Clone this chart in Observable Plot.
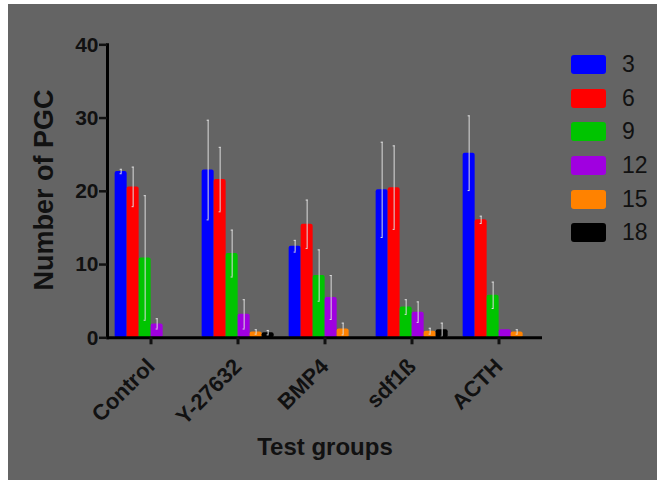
<!DOCTYPE html>
<html>
<head>
<meta charset="utf-8">
<script src="https://cdn.jsdelivr.net/npm/d3@7"></script>
<script src="https://cdn.jsdelivr.net/npm/@observablehq/plot@0.6"></script>
<style>
  body { margin: 0; background: #fff; }
  #wrap { position: relative; width: 657px; height: 480px; overflow: hidden; font-family: "Liberation Sans", Arial, sans-serif; }
  #chart { position: absolute; left: 8px; top: 4px; }
  .ytitle { position: absolute; left: 44px; top: 190px; transform: translate(-50%, -50%) rotate(-90deg); font-weight: bold; font-size: 27px; color: #111; white-space: nowrap; }
  .xtitle { position: absolute; left: 325px; top: 433px; transform: translateX(-50%); font-weight: bold; font-size: 24px; color: #111; white-space: nowrap; }
  .legend { position: absolute; left: 571px; top: 55px; }
  .item { display: flex; align-items: center; height: 19px; margin-bottom: 14.7px; }
  .sw { width: 35px; height: 19px; border-radius: 3px; }
  .lab { margin-left: 16px; font-size: 23px; color: #111; line-height: 19px; }
</style>
</head>
<body>
<div id="wrap">
  <div id="chart"></div>
  <div class="ytitle">Number of PGC</div>
  <div class="xtitle">Test groups</div>
  <div class="legend" id="legend"></div>
</div>
<script>
const groups = ["Control", "Y-27632", "BMP4", "sdf1ß", "ACTH"];
const series = ["3", "6", "9", "12", "15", "18"];
const colors = ["#0000ff", "#ff0000", "#00c400", "#a000e0", "#ff8200", "#000000"];
const yTicks = [0, 10, 20, 30, 40];

// values per series, in group order (null = no bar)
const v3  = [22.7, 22.9, 12.5, 20.2, 25.2];
const v6  = [20.6, 21.6, 15.5, 20.5, 16.1];
const v9  = [10.9, 11.5, 8.5, 4.2, 5.8];
const v12 = [1.9, 3.2, 5.5, 3.5, 1.1];
const v15 = [null, 0.8, 1.2, 0.9, 0.8];
const v18 = [null, 0.7, null, 1.1, null];

// error (± half-range) per series
const e3  = [0.3, 6.8, 0.8, 6.5, 5.1];
const e6  = [2.7, 4.4, 3.3, 5.7, 0.5];
const e9  = [8.5, 3.2, 3.5, 1.0, 1.8];
const e12 = [0.7, 2.0, 3.0, 1.4, 0];
const e15 = [0, 0.3, 0.8, 0.4, 0.3];
const e18 = [0, 0.3, 0, 0.9, 0];

const values = [v3, v6, v9, v12, v15, v18];
const errors = [e3, e6, e9, e12, e15, e18];

const rows = series.flatMap((s, i) =>
  groups.map((g, j) => ({group: g, series: s, value: values[i][j], err: errors[i][j]}))
).filter(d => d.value != null);
const errRows = rows.filter(d => d.err > 0).map(d => ({...d, lo: d.value - d.err, hi: d.value + d.err}));

const errColor = "#dcdcdc";

const chart = Plot.plot({
  width: 649,
  height: 476,
  marginLeft: 98.35,
  marginRight: 114.35,
  marginTop: 40.3,
  marginBottom: 142.7,
  style: {background: "#646464", fontFamily: "'Liberation Sans', Arial, sans-serif", color: "#111"},
  fx: {domain: groups, padding: 0, label: null},
  x: {domain: series, padding: 0, insetLeft: 4.65, insetRight: 4.65, axis: null},
  y: {domain: [0, 40]},
  color: {domain: series, range: colors},
  marks: [
    Plot.barY(rows, {fx: "group", x: "series", y: "value", fill: "series", rx: 2}),
    Plot.ruleX(errRows, {fx: "group", x: "series", y1: "lo", y2: "hi", stroke: errColor, strokeWidth: 1}),
    Plot.tickY(errRows, {fx: "group", x: "series", y: "lo", stroke: errColor, strokeWidth: 1, insetLeft: 5, insetRight: 5}),
    Plot.tickY(errRows, {fx: "group", x: "series", y: "hi", stroke: errColor, strokeWidth: 1, insetLeft: 5, insetRight: 5}),
    Plot.ruleY([0], {stroke: "#000", strokeWidth: 3}),
    Plot.frame({anchor: "left", facetAnchor: "left", stroke: "#000", strokeWidth: 3}),
    Plot.axisY({ticks: yTicks, tickSize: 8, tickPadding: 1, strokeWidth: 2.5, fontSize: 21, fontWeight: "bold", color: "#111", label: null}),
    Plot.axisFx({anchor: "bottom", tickSize: 7, strokeWidth: 3, tickRotate: -45, tickPadding: 18, fontSize: 22, fontWeight: "bold", color: "#111", label: null})
  ]
});
document.getElementById("chart").appendChild(chart);

const legend = document.getElementById("legend");
series.forEach((s, i) => {
  const item = document.createElement("div");
  item.className = "item";
  item.innerHTML = `<div class="sw" style="background:${colors[i]}"></div><div class="lab">${s}</div>`;
  legend.appendChild(item);
});
</script>
</body>
</html>
